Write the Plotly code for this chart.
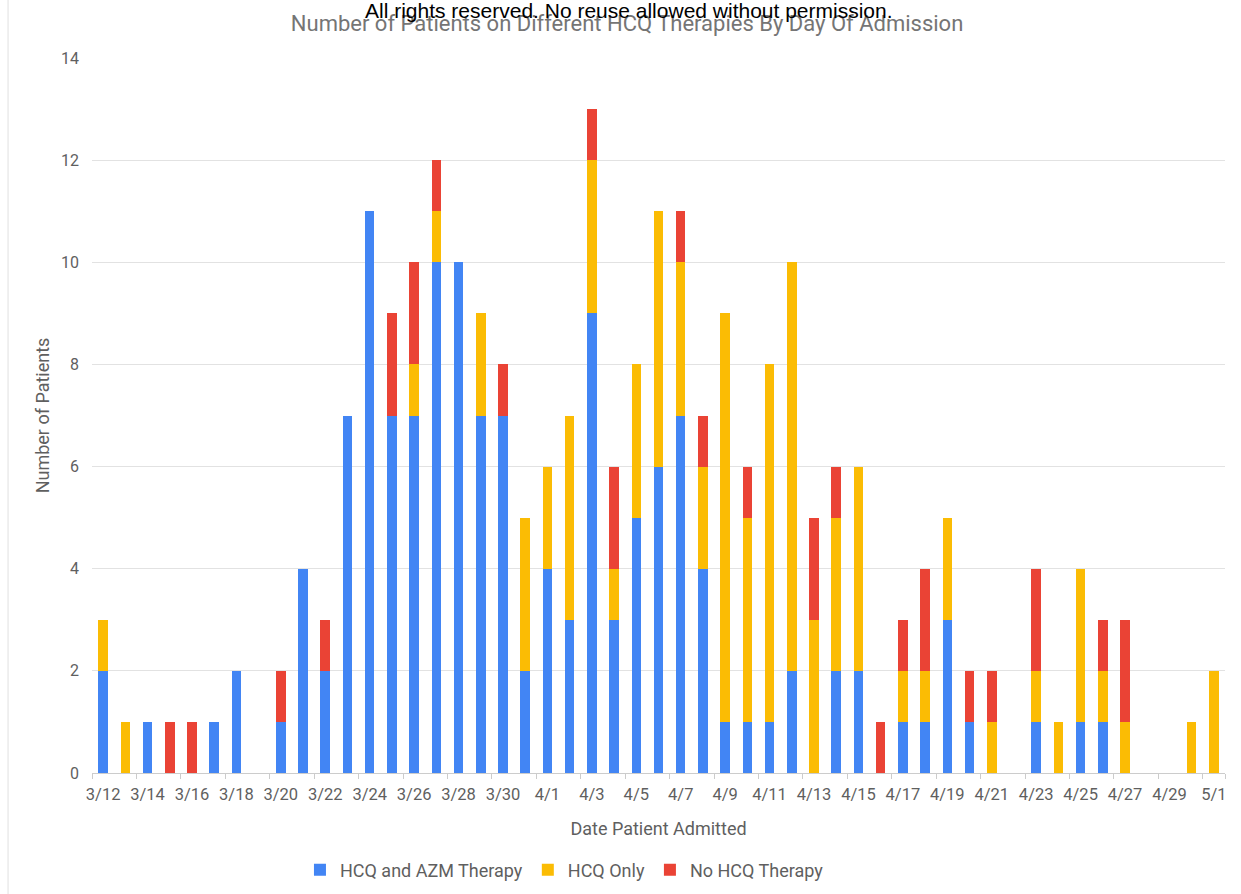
import plotly.graph_objects as go

dates = ["3/12","3/13","3/14","3/15","3/16","3/17","3/18","3/19","3/20","3/21",
         "3/22","3/23","3/24","3/25","3/26","3/27","3/28","3/29","3/30","3/31",
         "4/1","4/2","4/3","4/4","4/5","4/6","4/7","4/8","4/9","4/10",
         "4/11","4/12","4/13","4/14","4/15","4/16","4/17","4/18","4/19","4/20",
         "4/21","4/22","4/23","4/24","4/25","4/26","4/27","4/28","4/29","4/30","5/1"]

hcq_azm = [2,0,1,0,0,1,2,0,1,4,
           2,7,11,7,7,10,10,7,7,2,
           4,3,9,3,5,6,7,4,1,1,
           1,2,0,2,2,0,1,1,3,1,
           0,0,1,0,1,1,0,0,0,0,0]
hcq_only = [1,1,0,0,0,0,0,0,0,0,
            0,0,0,0,1,1,0,2,0,3,
            2,4,3,1,3,5,3,2,8,4,
            7,8,3,3,4,0,1,1,2,0,
            1,0,1,1,3,1,1,0,0,1,2]
no_hcq = [0,0,0,1,1,0,0,0,1,0,
          1,0,0,2,2,1,0,0,1,0,
          0,0,1,2,0,0,1,1,0,1,
          0,0,2,1,0,1,1,2,0,1,
          1,0,2,0,0,1,2,0,0,0,0]

series = [("HCQ and AZM Therapy", hcq_azm, "#4285F4"),
          ("HCQ Only", hcq_only, "#FBBC04"),
          ("No HCQ Therapy", no_hcq, "#EA4335")]

fig = go.Figure()
for name, vals, col in series:
    fig.add_trace(go.Bar(x=dates, y=vals, name=name, marker_color=col,
                         marker_line_width=0))

font = "Roboto, Arial, sans-serif"
txt = "#5f5f5f"
fig.update_layout(
    barmode="stack",
    bargap=0.57,
    width=1241, height=894,
    margin=dict(l=92, r=16, t=58, b=121, autoexpand=False),
    plot_bgcolor="white", paper_bgcolor="white",
    font=dict(family=font, color=txt),
    title=dict(text="Number of Patients on Different HCQ Therapies By Day Of Admission",
               x=0.5053, xanchor="center", y=0.974, yanchor="middle",
               font=dict(size=22, color="#757575", family=font)),
    legend=dict(orientation="h", x=0.417, xanchor="center",
                yref="container", y=1 - 870 / 894, yanchor="middle",
                font=dict(size=18, color=txt), traceorder="normal",
                itemwidth=30, itemclick=False),
    showlegend=True,
)
fig.update_xaxes(
    type="category", tickmode="array", tickvals=dates[::2], ticktext=dates[::2],
    tickfont=dict(size=16.5, color=txt), tickangle=0, ticklabelstandoff=6,
    showgrid=False, showline=True, linecolor="#cccccc", linewidth=1,
    ticks="outside", ticklen=5, tickcolor="#cccccc", tickson="boundaries",
    automargin=False,
    title=dict(text="Date Patient Admitted", font=dict(size=18, color=txt), standoff=19),
)
fig.update_yaxes(
    range=[0, 14], dtick=2, tickfont=dict(size=16, color=txt),
    showgrid=True, gridcolor="#e2e2e2", gridwidth=1, zeroline=False,
    ticklabelstandoff=12, automargin=False,
    title=dict(text="Number of Patients", font=dict(size=18, color=txt), standoff=6),
)
fig.add_annotation(text="All rights reserved. No reuse allowed without permission.",
                   xref="paper", yref="paper", x=0.474, y=1.0, yshift=48,
                   xanchor="center", yanchor="middle", showarrow=False,
                   font=dict(size=21, color="#000000", family="Liberation Sans, Arial, sans-serif"))
fig.add_shape(type="line", xref="paper", yref="paper", x0=-0.0741, x1=-0.0741,
              y0=-0.17, y1=1.09, line=dict(color="#e0e0e0", width=1))

fig.write_html("out.html", config={"displayModeBar": False},
               post_script="document.body.style.margin='0';")
